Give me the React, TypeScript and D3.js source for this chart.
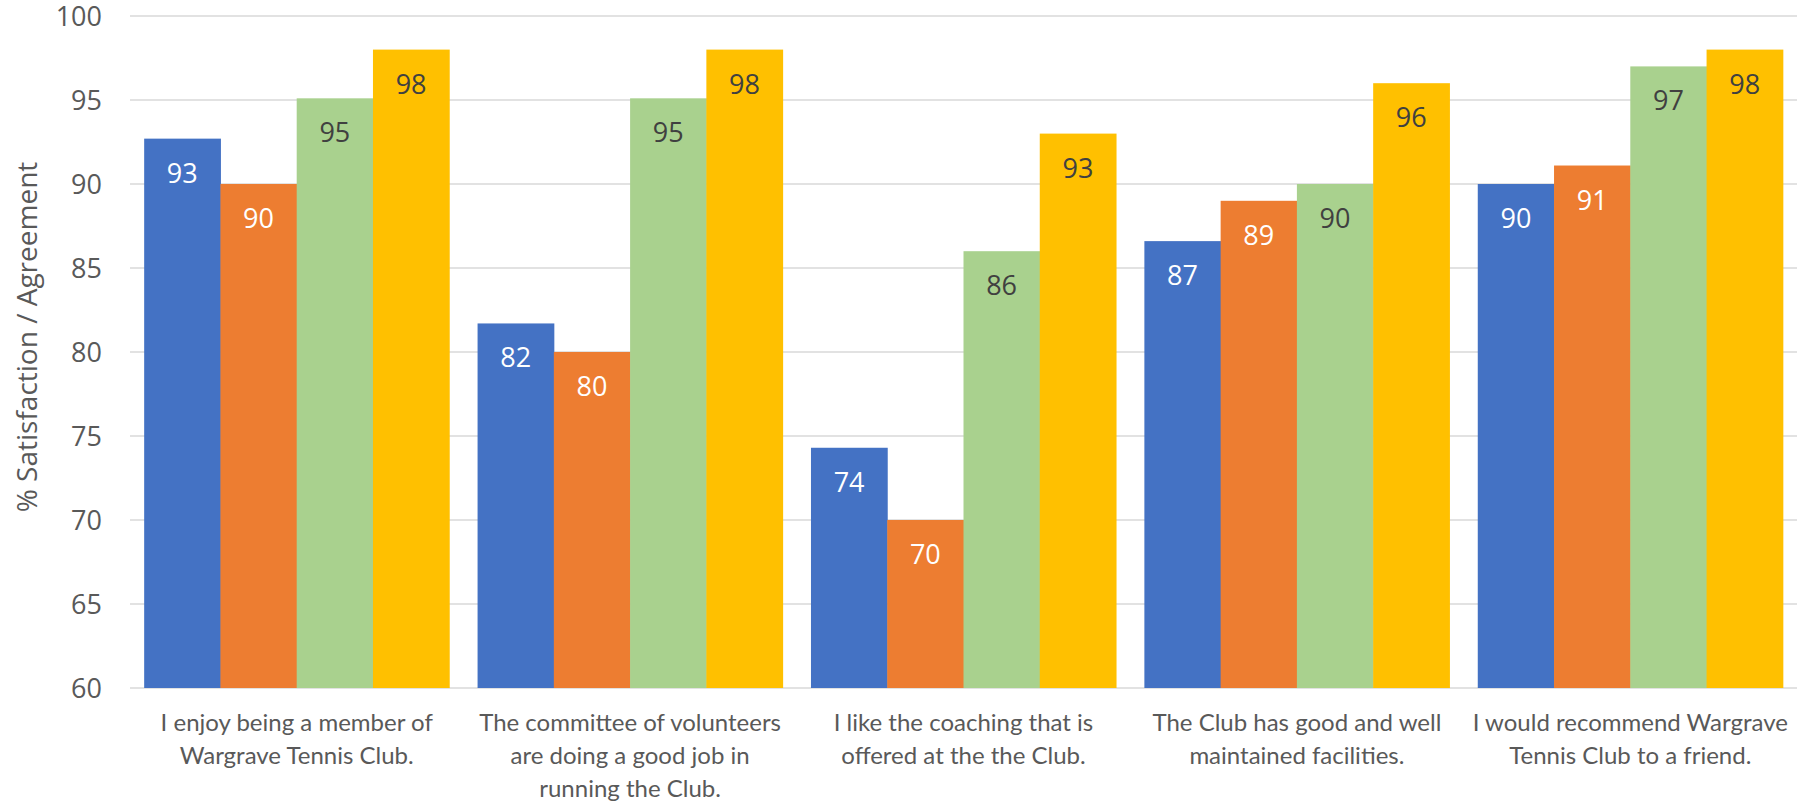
import React, { useEffect, useRef } from 'react';
import * as d3 from 'd3';

// categories (already wrapped the way the chart shows them)
const categoryLines: string[][] = [
    ['I enjoy being a member of', 'Wargrave Tennis Club.'],
    ['The committee of volunteers', 'are doing a good job in', 'running the Club.'],
    ['I like the coaching that is', 'offered at the the Club.'],
    ['The Club has good and well', 'maintained facilities.'],
    ['I would recommend Wargrave', 'Tennis Club to a friend.'],
];

const seriesNames = ['Series 1', 'Series 2', 'Series 3', 'Series 4'];
const series1 = [92.7, 81.7, 74.3, 86.6, 90.0];
const series2 = [90.0, 80.0, 70.0, 89.0, 91.1];
const series3 = [95.1, 95.1, 86.0, 90.0, 97.0];
const series4 = [98.0, 98.0, 93.0, 96.0, 98.0];
const yTicks = [60, 65, 70, 75, 80, 85, 90, 95, 100];
const yTitle = '% Satisfaction / Agreement';

type Datum = { cat: number; key: string; value: number; idx: number };

function drawChart(svgRoot: SVGSVGElement) {
    const svg = d3.select(svgRoot);
    svg.selectChildren().remove();

    const width = 1812;
    const height = 801;
    const margin = { top: 16, right: 15, bottom: 113, left: 130 };

    const colors = ['#4472C4', '#ED7D31', '#A9D18E', '#FFC000'];
    const labelColors = ['#ffffff', '#ffffff', '#404040', '#404040'];
    const allSeries = [series1, series2, series3, series4];

    const cats = categoryLines.map((_, i) => i);

    const x0 = d3.scaleBand<number>()
        .domain(cats)
        .range([margin.left, width - margin.right])
        .paddingInner(0.085)
        .paddingOuter(0.0425);
    const x1 = d3.scaleBand<string>()
        .domain(seriesNames)
        .range([0, x0.bandwidth()]);
    const y = d3.scaleLinear()
        .domain([60, 100])
        .range([height - margin.bottom, margin.top]);

    svg.attr('viewBox', [0, 0, width, height] as any)
        .attr('width', width)
        .attr('height', height);

    const g = svg.append('g');

    // gridlines
    g.append('g')
        .selectAll('line')
        .data(yTicks)
        .join('line')
        .attr('x1', margin.left)
        .attr('x2', width - margin.right)
        .attr('y1', (d) => y(d))
        .attr('y2', (d) => y(d))
        .attr('stroke', '#d9d9d9')
        .attr('stroke-width', 1.5);

    // y tick labels
    g.append('g')
        .selectAll('text')
        .data(yTicks)
        .join('text')
        .attr('x', 102)
        .attr('y', (d) => y(d))
        .attr('dy', '0.36em')
        .attr('text-anchor', 'end')
        .attr('font-family', '"Open Sans", sans-serif')
        .attr('font-size', 27)
        .attr('fill', '#595959')
        .text((d) => d);

    // y title
    g.append('text')
        .attr('transform', `translate(37,337) rotate(-90)`)
        .attr('text-anchor', 'middle')
        .attr('font-family', '"Open Sans", sans-serif')
        .attr('font-size', 28)
        .attr('fill', '#595959')
        .text(yTitle);

    const data: Datum[] = [];
    cats.forEach((c) => {
        allSeries.forEach((s, i) => data.push({ cat: c, key: seriesNames[i], value: s[c], idx: i }));
    });

    // bars
    g.append('g')
        .selectAll('rect')
        .data(data)
        .join('rect')
        .attr('x', (d) => x0(d.cat)! + x1(d.key)!)
        .attr('width', x1.bandwidth() + 0.5)
        .attr('y', (d) => y(d.value))
        .attr('height', (d) => y(60) - y(d.value))
        .attr('fill', (d) => colors[d.idx]);

    // value labels
    g.append('g')
        .selectAll('text')
        .data(data)
        .join('text')
        .attr('x', (d) => x0(d.cat)! + x1(d.key)! + x1.bandwidth() / 2)
        .attr('y', (d) => y(d.value) + 44)
        .attr('text-anchor', 'middle')
        .attr('font-family', '"Open Sans", sans-serif')
        .attr('font-size', 27)
        .attr('fill', (d) => labelColors[d.idx])
        .text((d) => Math.round(d.value));

    // category labels
    const catG = g.append('g')
        .selectAll('text')
        .data(cats)
        .join('text')
        .attr('text-anchor', 'middle')
        .attr('font-family', 'Lato, "Open Sans", sans-serif')
        .attr('font-size', 24)
        .attr('fill', '#595959');
    catG.selectAll('tspan')
        .data((c) => categoryLines[c].map((line) => ({ c, line })))
        .join('tspan')
        .attr('x', (d) => x0(d.c)! + x0.bandwidth() / 2)
        .attr('y', (d, i) => 731 + i * 33)
        .text((d) => d.line);
}

export default function App() {
    const svgRef = useRef<SVGSVGElement>(null);

    useEffect(() => {
        svgRef.current && drawChart(svgRef.current);
    }, []);

    return (
        <svg ref={svgRef} style={{ position: 'absolute', left: 0, top: 0, background: '#fff' }} />
    );
}
